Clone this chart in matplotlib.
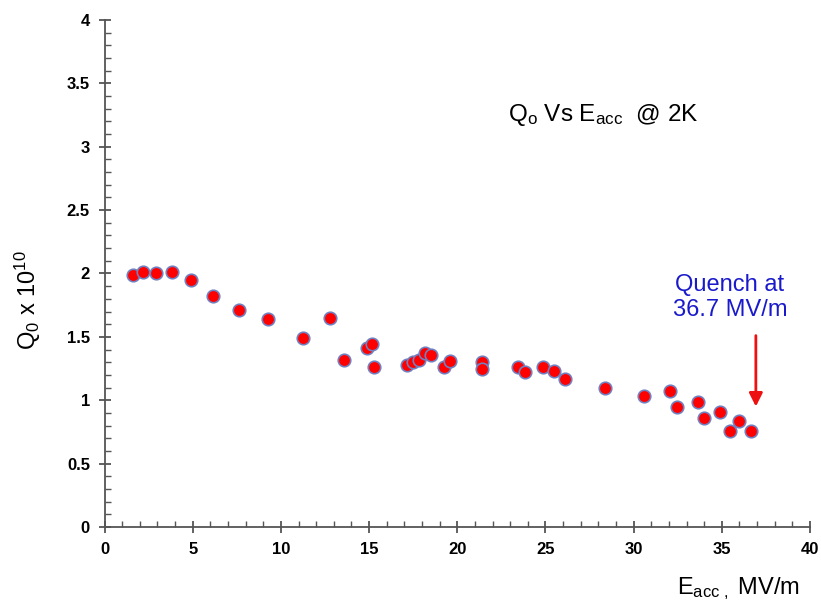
import numpy as np
import matplotlib
matplotlib.use('Agg')
import matplotlib.pyplot as plt
from matplotlib.ticker import MultipleLocator

plt.rcParams['font.family'] = ['Liberation Sans', 'DejaVu Sans']
plt.rcParams['mathtext.fontset'] = 'custom'
plt.rcParams['mathtext.rm'] = 'Liberation Sans'
plt.rcParams['mathtext.it'] = 'Liberation Sans'
plt.rcParams['mathtext.bf'] = 'Liberation Sans:bold'

# Accelerating gradient (MV/m) and Q0 (x 1e10)
e_acc = [1.60, 2.20, 2.90, 3.81, 4.89, 6.13, 7.64, 9.25, 11.24, 12.78,
         13.59, 14.86, 15.15, 15.29, 17.17, 17.51, 17.85, 18.17, 18.49, 19.26,
         19.59, 21.38, 21.38, 23.46, 23.86, 24.84, 25.48, 26.11, 28.37, 30.57,
         32.06, 32.44, 33.65, 33.99, 34.91, 35.46, 35.99, 36.67]
q0 = [1.99, 2.01, 2.00, 2.01, 1.95, 1.82, 1.71, 1.64, 1.49, 1.65,
      1.32, 1.41, 1.44, 1.26, 1.28, 1.30, 1.32, 1.37, 1.36, 1.26,
      1.31, 1.30, 1.25, 1.26, 1.22, 1.26, 1.23, 1.17, 1.10, 1.03,
      1.07, 0.95, 0.99, 0.86, 0.91, 0.76, 0.84, 0.76]

# quench annotation: arrow start/end (data units) and text centre
arrow_x = 36.93
arrow_top, arrow_tip = 1.51, 0.95
label_x, label_y = 35.46, 1.81

fig = plt.figure(figsize=(8.21, 6.04), dpi=100)
ax = fig.add_axes([0.1273, 0.1275, 0.8593, 0.8394])

ax.plot(e_acc, q0, 'o', ms=9, mfc='#ff0000', mec='#7080c0', mew=1.2, zorder=3)

ax.set_xlim(0, 40)
ax.set_ylim(0, 4)
ax.xaxis.set_major_locator(MultipleLocator(5))
ax.xaxis.set_minor_locator(MultipleLocator(1))
ax.yaxis.set_major_locator(MultipleLocator(0.5))
ax.yaxis.set_minor_locator(MultipleLocator(0.1))
ax.yaxis.set_major_formatter(plt.FuncFormatter(lambda v, p: ('%g' % v)))

for s in ['top', 'right']:
    ax.spines[s].set_visible(False)
for s in ['left', 'bottom']:
    ax.spines[s].set_color('#555555')
    ax.spines[s].set_linewidth(1.3)

ax.tick_params(which='major', direction='inout', length=9, width=1.3, color='#555555',
               labelsize=12, pad=6)
ax.tick_params(which='minor', direction='in', length=4, width=1.0, color='#555555')
for lbl in ax.get_xticklabels() + ax.get_yticklabels():
    lbl.set_fontweight('bold')

ax.set_ylabel('Q$_0$ x 10$^{10}$', fontsize=17)
ax.yaxis.set_label_coords(-0.087, 0.448)
ax.set_xlabel('E$_{acc\\ ,}$ MV/m', fontsize=17, ha='right')
ax.xaxis.set_label_coords(0.986, -0.095)

ax.text(0.572, 0.8126, 'Q$_o$ Vs E$_{acc}$  @ 2K', transform=ax.transAxes,
        fontsize=17.5, ha='left', va='center')

ax.annotate('', xy=(arrow_x, arrow_tip), xytext=(arrow_x, arrow_top),
            arrowprops=dict(arrowstyle='-|>', color='#ee1111', lw=2,
                            mutation_scale=20, shrinkA=0, shrinkB=0))
ax.text(label_x, label_y, 'Quench at\n36.7 MV/m', ha='center', va='center',
        fontsize=17, color='#1a1acc', linespacing=1.15)

fig.savefig('out.png', dpi=100)
